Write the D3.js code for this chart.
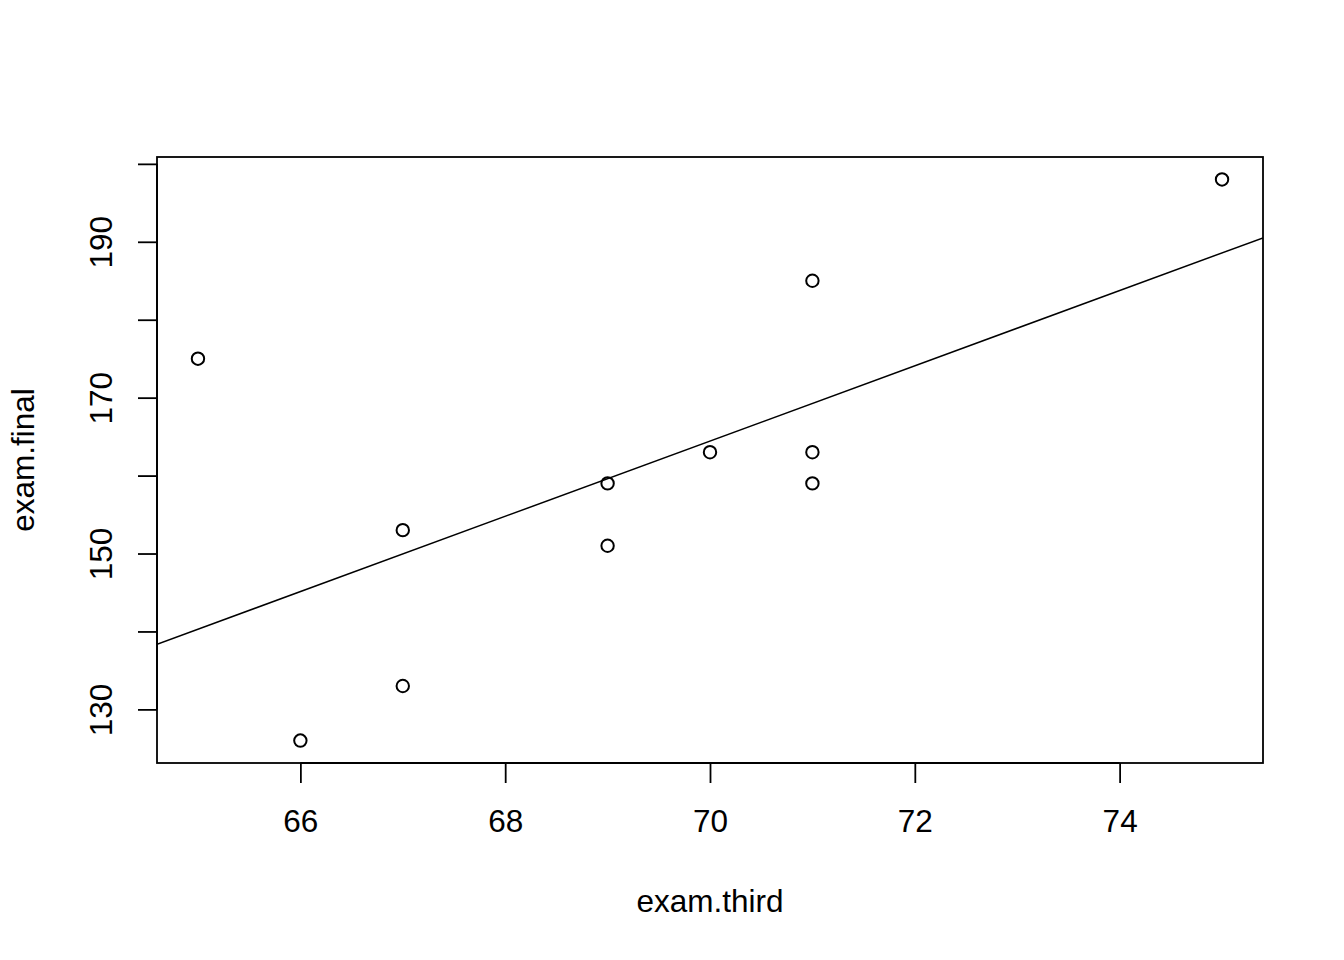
<!DOCTYPE html>
<html>
<head>
<meta charset="utf-8">
<script src="https://cdn.jsdelivr.net/npm/d3@7"></script>
<style>
  body { margin: 0; background: #fff; }
  svg { display: block; font-family: "Liberation Sans", Arial, sans-serif; }
</style>
</head>
<body>
<div class="box"></div>
<script>
// data
const examThird = [65, 66, 67, 67, 69, 69, 70, 71, 71, 71, 75];
const examFinal = [175, 126, 153, 133, 159, 151, 163, 185, 163, 159, 198];
const xTicks = [66, 68, 70, 72, 74];
const yTicks = [130, 140, 150, 160, 170, 180, 190, 200];
const yTickLabels = ["130", "", "150", "", "170", "", "190", ""];
// fitted line (abline of lm), coefficients
const fitIntercept = -173.6;
const fitSlope = 4.829;

const width = 1344, height = 960;
const margin = { top: 157, right: 81, bottom: 197, left: 157 };
const fontSize = 31.5;

const svg = d3.select(".box").append("svg")
  .attr("width", width)
  .attr("height", height);

const x = d3.scaleLinear().domain([64.6, 75.4]).range([margin.left, width - margin.right]);
const y = d3.scaleLinear().domain([123.12, 200.88]).range([height - margin.bottom, margin.top]);

svg.append("defs").append("clipPath").attr("id", "plotclip")
  .append("rect")
  .attr("x", x.range()[0]).attr("y", y.range()[1])
  .attr("width", x.range()[1] - x.range()[0])
  .attr("height", y.range()[0] - y.range()[1]);

// x axis
const xAxis = svg.append("g")
  .attr("transform", `translate(0, ${height - margin.bottom})`)
  .call(d3.axisBottom(x).tickValues(xTicks).tickSize(20).tickPadding(27).tickFormat(d3.format("d")));
xAxis.select(".domain").attr("d", `M${x(xTicks[0])},0H${x(xTicks[xTicks.length - 1])}`);

// y axis
const yAxis = svg.append("g")
  .attr("transform", `translate(${margin.left}, 0)`)
  .call(d3.axisLeft(y).tickValues(yTicks).tickSize(19).tickFormat((d, i) => yTickLabels[i]));
yAxis.select(".domain").attr("d", `M0,${y(yTicks[0])}V${y(yTicks[yTicks.length - 1])}`);
yAxis.selectAll(".tick text")
  .attr("transform", "rotate(-90)")
  .attr("x", 0)
  .attr("y", -45)
  .attr("dy", 0)
  .attr("text-anchor", "middle");

svg.selectAll(".tick text").attr("font-size", fontSize).attr("fill", "#000");
svg.selectAll(".domain, .tick line").attr("stroke", "#000").attr("stroke-width", 1.8);

// plot box
svg.append("rect")
  .attr("x", x.range()[0]).attr("y", y.range()[1])
  .attr("width", x.range()[1] - x.range()[0])
  .attr("height", y.range()[0] - y.range()[1])
  .attr("fill", "none")
  .attr("stroke", "#000")
  .attr("stroke-width", 1.8);

// regression line
const xd = x.domain();
svg.append("line")
  .attr("clip-path", "url(#plotclip)")
  .attr("x1", x(xd[0])).attr("y1", y(fitIntercept + fitSlope * xd[0]))
  .attr("x2", x(xd[1])).attr("y2", y(fitIntercept + fitSlope * xd[1]))
  .attr("stroke", "#000")
  .attr("stroke-width", 1.5);

// points
svg.selectAll(".pt")
  .data(examThird.map((d, i) => ({ x: d, y: examFinal[i] })))
  .enter().append("circle")
  .attr("class", "pt")
  .attr("cx", d => x(d.x))
  .attr("cy", d => y(d.y))
  .attr("r", 6.2)
  .attr("fill", "none")
  .attr("stroke", "#000")
  .attr("stroke-width", 2);

// axis titles
svg.append("text")
  .attr("x", (x.range()[0] + x.range()[1]) / 2)
  .attr("y", 912)
  .attr("text-anchor", "middle")
  .attr("font-size", fontSize)
  .text("exam.third");

svg.append("text")
  .attr("transform", `translate(34, ${(y.range()[0] + y.range()[1]) / 2}) rotate(-90)`)
  .attr("text-anchor", "middle")
  .attr("font-size", fontSize)
  .text("exam.final");
</script>
</body>
</html>
